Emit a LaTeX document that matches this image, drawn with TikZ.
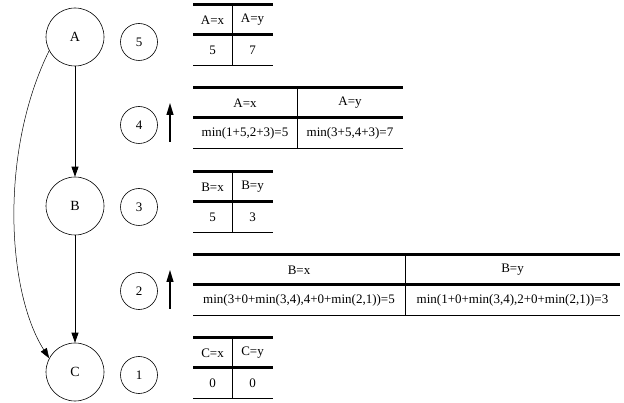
\documentclass[tikz,border=0pt]{standalone}
\usepackage{fontspec}
\setmainfont{Liberation Serif}
\usepackage{tikz}
\usetikzlibrary{arrows.meta}
\usetikzlibrary{positioning}
\tikzset{bigstate/.style={draw, circle, line width=0.6pt, minimum size=58pt, inner sep=0pt, font=\fontsize{14}{16}\selectfont}}
\tikzset{stagenode/.style={draw, circle, line width=0.6pt, minimum size=37pt, inner sep=0pt}}
\tikzset{edge/.style={line width=0.9pt, -{Triangle[length=10pt,width=7pt]}}}
\tikzset{thinedge/.style={line width=0.5pt, -{Triangle[length=10pt,width=7pt]}}}
\tikzset{uparrow/.style={line width=1.2pt, -{Triangle[length=12pt,width=7pt]}}}
\tikzset{headrule/.style={line width=3pt}}
\tikzset{footrule/.style={line width=0.9pt}}
% top y, left x, divider x, right x
\newcommand{\tabrules}[4]{
\draw[headrule] (#2,#1) -- (#4,#1);
\draw[headrule] (#2,#1+30) -- (#4,#1+30);
\draw[footrule] (#2,#1+60) -- (#4,#1+60);
\draw[footrule] (#3,#1) -- (#3,#1+60);
}

\begin{document}
\begin{tikzpicture}[x=1pt,y=-1pt,font=\fontsize{13}{15}\selectfont]
\useasboundingbox (0,0) rectangle (624,403);
{
% graph
\node[bigstate] (A) at (75,37) {A};
\node[bigstate] (B) at (75,206) {B};
\node[bigstate] (C) at (75,372) {C};
\draw[edge] (A) -- (B);
\draw[edge] (B) -- (C);
\draw[thinedge] (A.208) .. controls (0,150) and (6,290) .. (C.152);

% steps
\node[stagenode] (s5) at (139,42) {5};
\node[stagenode] (s4) at (139,125) {4};
\node[stagenode] (s3) at (139,207) {3};
\node[stagenode] (s2) at (139,291) {2};
\node[stagenode] (s1) at (139,375) {1};
\coordinate (u4a) at (170,142);
\coordinate (u4b) at (170,103);
\coordinate (u2a) at (170,309);
\coordinate (u2b) at (170,270);
\draw[uparrow] (u4a) -- (u4b);
\draw[uparrow] (u2a) -- (u2b);

% tables
\tabrules{5}{193}{232}{273}
\node (t5x) at (212.5,20) {A=x};
\node (t5y) at (252.5,20) {A=y};
\node (v5x) at (212.5,50) {5};
\node (v5y) at (252.5,50) {7};

\tabrules{88}{193}{297}{403}
\node (t4x) at (245,103) {A=x};
\node (t4y) at (350,103) {A=y};
\node (v4x) at (245,133) {min(1+5,2+3)=5};
\node (v4y) at (350,133) {min(3+5,4+3)=7};

\tabrules{172}{193}{232}{273}
\node (t3x) at (212.5,187) {B=x};
\node (t3y) at (252.5,187) {B=y};
\node (v3x) at (212.5,217) {5};
\node (v3y) at (252.5,217) {3};

\tabrules{255}{193}{405}{620}
\node (t2x) at (299,270) {B=x};
\node (t2y) at (512.5,270) {B=y};
\node (v2x) at (299,300) {min(3+0+min(3,4),4+0+min(2,1))=5};
\node (v2y) at (512.5,300) {min(1+0+min(3,4),2+0+min(2,1))=3};

\tabrules{338}{193}{232}{273}
\node (t1x) at (212.5,353) {C=x};
\node (t1y) at (252.5,353) {C=y};
\node (v1x) at (212.5,383) {0};
\node (v1y) at (252.5,383) {0};
}
\end{tikzpicture}
\end{document}
